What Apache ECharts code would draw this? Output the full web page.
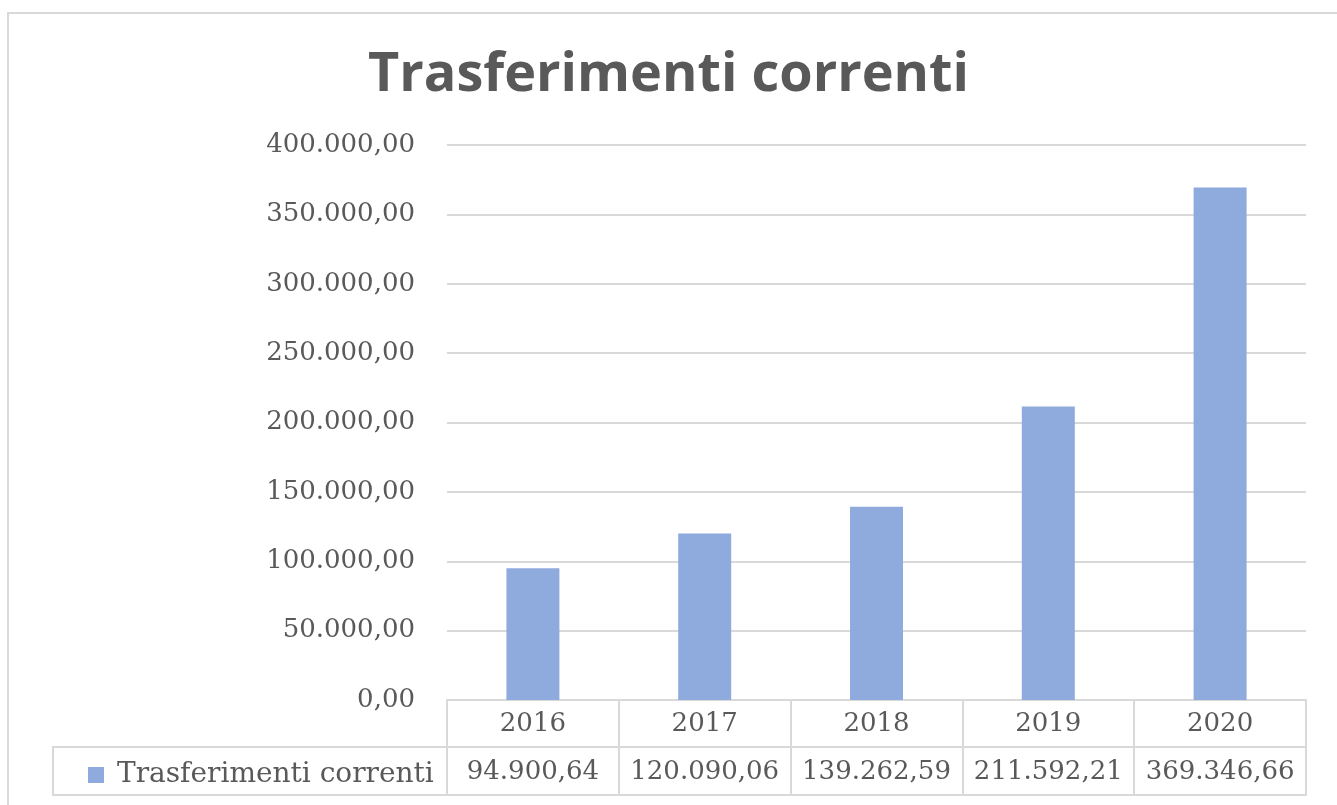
<!DOCTYPE html>
<html>
<head>
<meta charset="utf-8">
<script src="https://cdn.jsdelivr.net/npm/echarts@6/dist/echarts.min.js"></script>
<style>
  html, body { margin: 0; padding: 0; background: #fff; }
  #chart { width: 1337px; height: 805px; }
</style>
</head>
<body>
<div id="chart"></div>
<script>
// Trasferimenti correnti per anno
const years = ['2016', '2017', '2018', '2019', '2020']
const values = [94900.64, 120090.06, 139262.59, 211592.21, 369346.66]
const seriesName = 'Trasferimenti correnti'

// formato italiano: 1.234,56
function fmt(v) {
  const parts = Number(v).toFixed(2).split('.')
  parts[0] = parts[0].replace(/\B(?=(\d{3})+(?!\d))/g, '.')
  return parts.join(',')
}

const chart = echarts.init(document.getElementById('chart'))
const grey = '#595959'
const lineCol = '#d9d9d9'
const serif = 'DejaVu Serif'

const option = {
  backgroundColor: '#fff',
  animation: false,
  title: {
    text: seriesName,
    left: 'center',
    top: 44,
    textStyle: {
      fontFamily: 'Open Sans',
      fontWeight: 'bold',
      fontSize: 54,
      color: grey
    }
  },
  legend: {
    left: 83,
    top: 756,
    icon: 'rect',
    itemWidth: 16,
    itemHeight: 16,
    itemGap: 10,
    textStyle: { fontFamily: serif, fontSize: 28, color: grey, padding: [0, 0, 0, 8] }
  },
  grid: { left: 447, right: 31, top: 145, bottom: 105 },
  xAxis: [{
    type: 'category',
    data: years,
    position: 'bottom',
    axisLine: { show: true, lineStyle: { color: lineCol, width: 2 } },
    axisTick: { show: true, interval: 0, length: 95, lineStyle: { color: lineCol, width: 2 } },
    axisLabel: { interval: 0, margin: 11, fontFamily: serif, fontSize: 26, color: grey }
  }, {
    type: 'category',
    data: years,
    position: 'bottom',
    offset: 47,
    axisLine: { show: true, lineStyle: { color: lineCol, width: 2 } },
    axisTick: { show: false },
    axisLabel: {
      interval: 0, margin: 12, fontFamily: serif, fontSize: 26, color: grey,
      formatter: (v, i) => fmt(values[i])
    }
  }, {
    type: 'category',
    data: years,
    position: 'bottom',
    offset: 95,
    axisLine: { show: true, lineStyle: { color: lineCol, width: 2 } },
    axisTick: { show: false },
    axisLabel: { show: false }
  }],
  yAxis: {
    type: 'value',
    min: 0,
    max: 400000,
    interval: 50000,
    axisLine: { show: false },
    axisTick: { show: false },
    axisLabel: {
      margin: 32,
      fontFamily: serif, fontSize: 26, color: grey,
      formatter: v => fmt(v)
    },
    splitLine: { lineStyle: { color: lineCol, width: 2 } }
  },
  series: [{
    name: seriesName,
    type: 'bar',
    data: values,
    barWidth: 53,
    itemStyle: { color: '#8faadc' }
  }],
  graphic: [{
    // cornice esterna del grafico
    type: 'rect',
    silent: true,
    shape: { x: 8, y: 13, width: 1400, height: 900 },
    style: { fill: 'none', stroke: lineCol, lineWidth: 2 }
  }, {
    // cella legenda della tabella dati
    type: 'rect',
    silent: true,
    shape: { x: 53, y: 747, width: 394, height: 48 },
    style: { fill: 'none', stroke: lineCol, lineWidth: 2 }
  }]
}

chart.setOption(option)
</script>
</body>
</html>
